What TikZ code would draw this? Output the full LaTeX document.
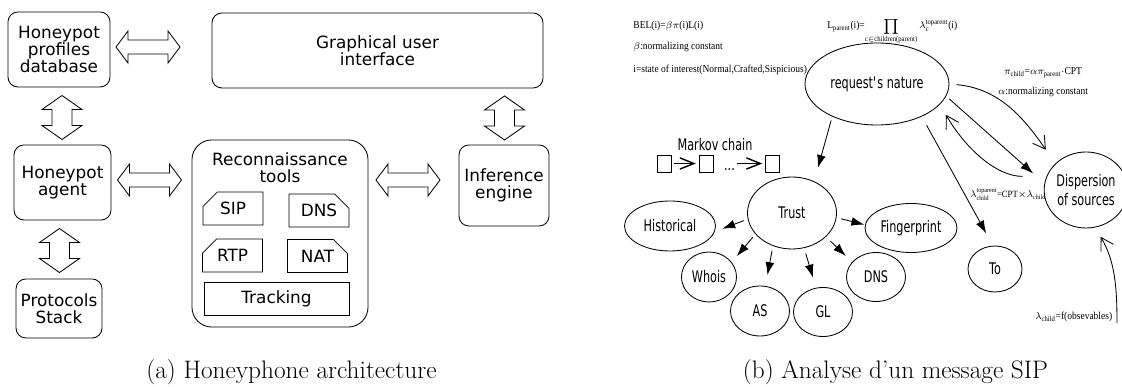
\documentclass[tikz,border=0pt]{standalone}
\usepackage{amsmath}
\usepackage{fontspec}
\usepackage{tikz}
\usetikzlibrary{positioning, shapes.geometric, shapes.misc, arrows.meta, calc}

\newfontfamily\archfont{DejaVu Sans}
\newfontfamily\netfont[FakeStretch=0.7]{DejaVu Sans}
\newfontfamily\eqfont[FakeStretch=0.9]{Liberation Serif}

\begin{document}
\begin{tikzpicture}[
  line width=0.6pt,
  block/.style={draw, rounded corners=7pt, align=center, inner sep=0pt, font=\archfont\fontsize{12}{12.2}\selectfont},
  toolbox/.style={draw, chamfered rectangle, chamfered rectangle xsep=0.2cm, chamfered rectangle ysep=0.2cm, minimum width=1.5cm, minimum height=0.825cm, inner sep=0pt, font=\archfont\fontsize{12}{12.2}\selectfont},
  bnode/.style={draw, ellipse, inner sep=0pt, align=center, font=\netfont\fontsize{11.4}{13.5}\selectfont},
  cell/.style={draw, minimum width=0.35cm, minimum height=0.425cm, inner sep=0pt},
  formula/.style={inner sep=0pt, font=\eqfont\fontsize{7.5}{9}\selectfont},
  fillarrow/.style={-{Latex[length=0.32cm, width=0.22cm]}},
  openarrow/.style={-{Straight Barb[length=0.3cm, width=0.36cm]}},
  chainarrow/.style={-{Straight Barb[length=0.35cm, width=0.28cm]}, line width=1pt},
  subcap/.style={anchor=base, inner sep=0pt, font=\fontsize{18}{20}\selectfont},
  pics/harrow/.style={code={
    \draw (-0.8,0) -- (-0.5,0.4) -- (-0.5,0.175) -- (0.5,0.175) -- (0.5,0.4) -- (0.8,0)
      -- (0.5,-0.4) -- (0.5,-0.175) -- (-0.5,-0.175) -- (-0.5,-0.4) -- cycle;
  }},
  pics/varrow/.style={code={
    \draw (0,-0.55) -- (0.5,-0.2) -- (0.25,-0.2) -- (0.25,0.2) -- (0.5,0.2) -- (0,0.55)
      -- (-0.5,0.2) -- (-0.25,0.2) -- (-0.25,-0.2) -- (-0.5,-0.2) -- cycle;
  }}
]
\useasboundingbox (0,0) rectangle (28.05,9.675);

% (a) Honeyphone architecture
\node[block, minimum width=2.55cm, minimum height=1.875cm] (profiles) at (1.475,8.4375) {Honeypot\\profiles\\database};
\node[block, minimum width=8.275cm, minimum height=1.875cm] (gui) at (9.4375,8.4125) {Graphical user\\interface};
\node[block, minimum width=2.425cm, minimum height=1.875cm] (agent) at (1.5625,5.1125) {Honeypot\\agent};
\node[block, minimum width=2.15cm, minimum height=1.475cm] (stack) at (1.475,1.9625) {Protocols\\Stack};
\node[block, minimum width=2.25cm, minimum height=2.025cm] (infer) at (12.6,5.0375) {Inference\\engine};
% Reconnaissance tools
\node[block, rounded corners=14pt, minimum width=4.4cm, minimum height=4.675cm] (recon) at (7.0,3.8375) {};
\node[font=\archfont\fontsize{12}{12.2}\selectfont, align=center] (recontitle) at (7.0,5.475) {Reconnaissance\\tools};
\node[toolbox, chamfered rectangle corners=north west] (sip) at (5.825,4.4625) {SIP};
\node[toolbox, chamfered rectangle corners=north east] (dns) at (7.975,4.4125) {DNS};
\node[toolbox, chamfered rectangle corners=north west] (rtp) at (5.8125,3.2875) {RTP};
\node[toolbox, chamfered rectangle corners=north east] (nat) at (7.9375,3.275) {NAT};
\node[block, sharp corners, minimum width=3.625cm, minimum height=0.825cm] (track) at (6.9125,2.2125) {Tracking};
% Block arrows
\pic at (3.7,8.5) {harrow};
\pic at (3.7375,5.175) {harrow};
\pic at (10.2,5.175) {harrow};
\pic at (1.55,6.7375) {varrow};
\pic at (1.4875,3.4125) {varrow};
\pic at (12.6125,6.725) {varrow};
\node[subcap] (capa) at (7.2875,0.2) {(a) Honeyphone architecture};

% (b) Analyse d'un message SIP
\node[formula, anchor=west] (bel) at (15.825,9.025) {BEL(i)=$\beta\pi$(i)L(i)};
\node[formula, anchor=west] (beta) at (15.825,8.5) {$\beta$:normalizing constant};
\node[formula, anchor=west] (state) at (15.825,7.925) {i=state of interest(Normal,Crafted,Sispicious)};
\node[formula, anchor=base west] (lpar) at (20.675,8.95) {L\textsubscript{parent}(i)=$\displaystyle\prod_{\text{c$\in$children(parent)}}\lambda_{\text{c}}^{\text{toparent}}$(i)};
\node[formula] (pichild) at (26.075,7.85) {$\pi_{\text{child}}$=$\alpha\pi_{\text{parent}}\cdot$CPT};
\node[formula] (alpha) at (26.075,7.375) {$\alpha$:normalizing constant};
\node[formula, font=\eqfont\fontsize{6.8}{8}\selectfont] (lamup) at (25.2,4.8) {$\lambda_{\text{child}}^{\text{toparent}}$=CPT$\times\lambda_{\text{child}}$};
\node[formula] (lamobs) at (26.84,1.75) {$\lambda_{\text{child}}$=f(obsevables)};
% Network nodes
\node[bnode, minimum width=3.6cm, minimum height=2.05cm] (nature) at (21.925,7.575) {request\textquotesingle s nature};
\node[bnode, minimum width=1.8cm, minimum height=1.9cm] (disp) at (27.15,4.925) {Dispersion\\of sources};
\node[bnode, minimum width=1.35cm, minimum height=1.15cm] (tonode) at (24.875,2.95) {To};
\node[bnode, minimum width=2.225cm, minimum height=1.8cm] (trust) at (19.8,4.35) {Trust};
\node[bnode, minimum width=2.275cm, minimum height=1.25cm] (hist) at (16.75,4.025) {Historical};
\node[bnode, minimum width=1.375cm, minimum height=1.25cm] (whois) at (17.725,2.75) {Whois};
\node[bnode, minimum width=1.475cm, minimum height=1.25cm] (as) at (19.0,1.9) {AS};
\node[bnode, minimum width=1.475cm, minimum height=1.225cm] (gl) at (20.575,1.875) {GL};
\node[bnode, minimum width=1.475cm, minimum height=1.225cm] (fdns) at (21.9,2.75) {DNS};
\node[bnode, minimum width=2.3cm, minimum height=1.225cm] (finger) at (22.775,3.975) {Fingerprint};
% Markov chain
\node[font=\netfont\fontsize{11.4}{13}\selectfont] (mklabel) at (17.875,6.05) {Markov chain};
\node[cell] (mk1) at (16.6,5.5875) {};
\node[cell] (mk2) at (17.65,5.5875) {};
\node[font=\netfont\fontsize{11.4}{13}\selectfont, inner sep=0pt, text height=1.5pt, text depth=0pt] (mkdots) at (18.2375,5.45) {...};
\node[cell] (mk3) at (19.3125,5.5875) {};
\draw[chainarrow, shorten <=2pt, shorten >=2pt] (mk1) -- (mk2);
\draw[chainarrow, shorten <=1pt, shorten >=2pt] (mkdots.east |- mk3.west) -- (mk3.west);
% Trust and its observations
\foreach \a/\c/\b/\s/\e in {188/hist/-7/0.1/0.2, 210/whois/33/0.1/0.2, 240/as/78/0.12/0.28,
    289/gl/106/0.14/0.27, 325/fdns/148/0.15/0.22, 354/finger/176/0.12/0.02} {
  \draw[fillarrow, shorten <=\s cm, shorten >=\e cm] (trust.\a) -- (\c.\b);
}
% Messages between nodes
\draw[fillarrow, shorten <=0.1cm, shorten >=0.35cm] (nature.216) -- (trust.55);
\draw[fillarrow, shorten <=0.25cm, shorten >=0.35cm] (nature.324) -- (tonode.95);
\draw[fillarrow, shorten <=0.1cm, shorten >=0.375cm] (nature.350) -- (disp.171);
\draw[openarrow, shorten <=0.18cm, shorten >=0.42cm] (nature.0) to[out=-5, in=125] (disp.139);
\draw[openarrow, shorten <=0.6cm, shorten >=0.3cm] (disp.161) to[out=180, in=-60] (nature.342);
\coordinate (obs) at (27.925,1.6);
\draw[openarrow, shorten >=0.27cm] (obs) to[out=90, in=-60] (disp.284);
\node[subcap] (capb) at (22.3875,0.2) {(b) Analyse d'un message SIP};

\end{tikzpicture}
\end{document}
